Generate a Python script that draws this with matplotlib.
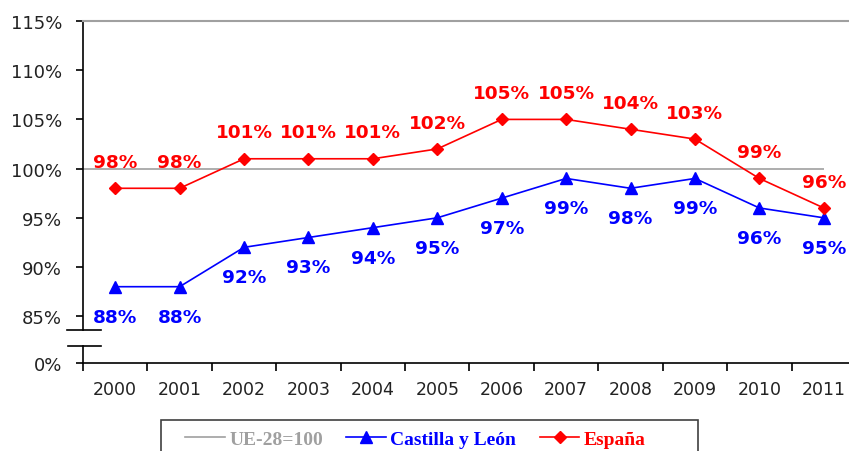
import matplotlib.pyplot as plt
from matplotlib.patches import Rectangle
import numpy as np

years = ['2000', '2001', '2002', '2003', '2004', '2005',
         '2006', '2007', '2008', '2009', '2010', '2011']
castilla = [88, 88, 92, 93, 94, 95, 97, 99, 98, 99, 96, 95]
espana = [98, 98, 101, 101, 101, 102, 105, 105, 104, 103, 99, 96]
ue = 100
yticks = [85, 90, 95, 100, 105, 110, 115]

W, H = 849, 452
fig = plt.figure(figsize=(W / 100, H / 100), dpi=100)

x0, x1 = 83, 856
ax = fig.add_axes([x0 / W, 1 - 331 / H, (x1 - x0) / W, (331 - 22) / H])
axb = fig.add_axes([x0 / W, 1 - 364 / H, (x1 - x0) / W, (364 - 347) / H])

x = np.arange(len(years))
xlim = (-0.5, 11.5)
tick_col = '#222222'

# upper part of the broken axis
ax.hlines(ue, -0.5, 11, color='#a0a0a0', lw=1.2, zorder=1)
ax.plot(x, castilla, '-^', color='#0000ff', lw=1.2, ms=9, zorder=3)
ax.plot(x, espana, '-D', color='#ff0000', lw=1.2, ms=6.5, zorder=3)

for i, v in enumerate(espana):
    ax.annotate(f'{v}%', (i, v), xytext=(0, 19), textcoords='offset points',
                ha='center', va='center', color='#ff0000', fontsize=13.3,
                fontweight='bold')
for i, v in enumerate(castilla):
    ax.annotate(f'{v}%', (i, v), xytext=(0, -21.5), textcoords='offset points',
                ha='center', va='center', color='#0000ff', fontsize=13.3,
                fontweight='bold')

ax.set_xlim(xlim)
ax.set_ylim(83.6, 115)
ax.set_yticks(yticks)
ax.set_yticklabels([f'{t}%' for t in yticks])
ax.set_xticks([])
ax.spines['right'].set_visible(False)
ax.spines['bottom'].set_visible(False)
ax.spines['top'].set_color('#a0a0a0')
ax.spines['top'].set_linewidth(1.5)
ax.spines['left'].set_linewidth(1.2)
ax.tick_params(axis='y', direction='out', length=5, width=1.2,
               labelsize=13, labelcolor=tick_col, pad=10)
ax.patch.set_alpha(0)

# lower part, only 0%
axb.set_xlim(xlim)
axb.set_ylim(0, 1)
axb.set_yticks([0])
axb.set_yticklabels(['0%'])
axb.spines['right'].set_visible(False)
axb.spines['top'].set_visible(False)
axb.spines['left'].set_linewidth(1.2)
axb.spines['bottom'].set_linewidth(1.2)
axb.set_xticks(x)
axb.set_xticklabels(years)
axb.set_xticks(np.arange(-0.5, 11.5, 1), minor=True)
axb.tick_params(axis='x', which='major', length=0, labelsize=12.5,
                labelcolor=tick_col, pad=12)
axb.tick_params(axis='x', which='minor', direction='out', length=6, width=1.2)
axb.tick_params(axis='y', direction='out', length=5, width=1.2,
                labelsize=13, labelcolor=tick_col, pad=10)
axb.patch.set_alpha(0)

# break marks
bw = x1 - x0
ax.plot([(67 - x0) / bw, (101 - x0) / bw], [0, 0], color='black', lw=1.2,
        transform=ax.transAxes, clip_on=False)
axb.plot([(68 - x0) / bw, (101 - x0) / bw], [1, 1], color='black', lw=1.2,
         transform=axb.transAxes, clip_on=False)

# legend (frame drawn separately, it runs off the bottom edge)
h1, = ax.plot([], [], '-', color='#a0a0a0', lw=1.2)
h2, = ax.plot([], [], '-^', color='#0000ff', lw=1.2, ms=9)
h3, = ax.plot([], [], '-D', color='#ff0000', lw=1.2, ms=6.5)
leg = fig.legend([h1, h2, h3], ['UE-28=100', 'Castilla y León', 'España'],
                 loc='upper left', bbox_to_anchor=(185 / W, 1 - 431 / H),
                 borderaxespad=0, borderpad=0, ncol=3, frameon=False,
                 handlelength=2.05, columnspacing=1.2, handletextpad=0.22,
                 prop={'family': 'Liberation Serif', 'weight': 'bold',
                       'size': 14})
for t, c in zip(leg.get_texts(), ['#a0a0a0', '#0000ff', '#ff0000']):
    t.set_color(c)
fig.patches.append(Rectangle((161 / W, -0.05), (698 - 161) / W,
                             1 - 421 / H + 0.05, transform=fig.transFigure,
                             fill=False, edgecolor='#404040', lw=1.2))

fig.savefig('out.png', dpi=100)
